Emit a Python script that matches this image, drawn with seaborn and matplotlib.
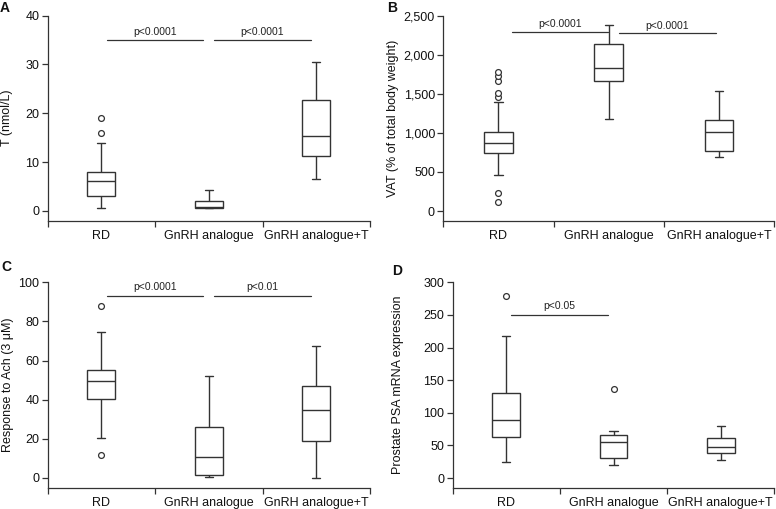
import numpy as np
import pandas as pd
import matplotlib
matplotlib.use("Agg")
import matplotlib.pyplot as plt
import matplotlib.ticker as mticker
import seaborn as sns

# ---------------- data (five-number summaries: low whisker, Q1, median, Q3, high whisker)
groups = ["RD", "GnRH analogue", "GnRH analogue+T"]

A_RD = [0.7, 3.1, 6.1, 8.0, 13.9]
A_GnRH = [0.5, 0.7, 0.9, 2.1, 4.2]
A_GnRHT = [6.6, 11.2, 15.3, 22.8, 30.5]
A_out_RD = [16.0, 19.1]
A_out_GnRH = []
A_out_GnRHT = []

B_RD = [465, 739, 874, 1015, 1399]
B_GnRH = [1178, 1660, 1836, 2142, 2385]
B_GnRHT = [691, 772, 1007, 1165, 1536]
B_out_RD = [119, 226, 1455, 1514, 1668, 1728, 1783]
B_out_GnRH = []
B_out_GnRHT = []

C_RD = [20.3, 40.1, 49.3, 55.1, 74.4]
C_GnRH = [0.5, 1.5, 10.4, 26.1, 52.1]
C_GnRHT = [0.0, 18.8, 34.5, 47.1, 67.2]
C_out_RD = [11.6, 87.7]
C_out_GnRH = []
C_out_GnRHT = []

D_RD = [24.5, 62.9, 88.4, 130.8, 217.7]
D_GnRH = [20.4, 31.2, 55.8, 66.0, 72.2]
D_GnRHT = [27.0, 38.3, 47.0, 60.8, 80.2]
D_out_RD = [279]
D_out_GnRH = [136.7]
D_out_GnRHT = []

# significance annotations: (x start, x end, y, label)
A_sig = [(0.05, 0.95, 35.0, "p<0.0001"), (1.05, 1.95, 35.0, "p<0.0001")]
B_sig = [(0.12, 0.99, 2291, "p<0.0001"), (1.09, 1.97, 2274, "p<0.0001")]
C_sig = [(0.05, 0.95, 93.2, "p<0.0001"), (1.05, 1.95, 93.2, "p<0.01")]
D_sig = [(0.04, 0.95, 250, "p<0.05")]

A_ylabel = "T (nmol/L)"
B_ylabel = "VAT (% of total body weight)"
C_ylabel = "Response to Ach (3 \u03bcM)"
D_ylabel = "Prostate PSA mRNA expression"

A_yticks = [0, 10, 20, 30, 40]
B_yticks = [0, 500, 1000, 1500, 2000, 2500]
C_yticks = [0, 20, 40, 60, 80, 100]
D_yticks = [0, 50, 100, 150, 200, 250, 300]

# ---------------- style
sns.set_style("ticks")
plt.rcParams["font.family"] = ["Liberation Sans", "DejaVu Sans"]
plt.rcParams["font.size"] = 9

LC = "#333333"

fig = plt.figure(figsize=(7.76, 5.09), dpi=100)

panels = [
    dict(letter="A", boxes=[A_RD, A_GnRH, A_GnRHT], outs=[A_out_RD, A_out_GnRH, A_out_GnRHT],
         sig=A_sig, ylabel=A_ylabel, yticks=A_yticks, ylim=(-2.0, 40),
         rect=[0.0615, 0.5664, 0.4153, 0.4028], lab_x=-0.107, letter_xy=(5, 8), sigoff=4.0, comma=False),
    dict(letter="B", boxes=[B_RD, B_GnRH, B_GnRHT], outs=[B_out_RD, B_out_GnRH, B_out_GnRHT],
         sig=B_sig, ylabel=B_ylabel, yticks=B_yticks, ylim=(-124, 2500),
         rect=[0.5713, 0.5664, 0.4265, 0.4028], lab_x=-0.135, letter_xy=(392, 8), sigoff=3.4, comma=True),
    dict(letter="C", boxes=[C_RD, C_GnRH, C_GnRHT], outs=[C_out_RD, C_out_GnRH, C_out_GnRHT],
         sig=C_sig, ylabel=C_ylabel, yticks=C_yticks, ylim=(-5.1, 100),
         rect=[0.0615, 0.0418, 0.4153, 0.4035], lab_x=-0.105, letter_xy=(6, 267), sigoff=4.0, comma=False),
    dict(letter="D", boxes=[D_RD, D_GnRH, D_GnRHT], outs=[D_out_RD, D_out_GnRH, D_out_GnRHT],
         sig=D_sig, ylabel=D_ylabel, yticks=D_yticks, ylim=(-14.8, 300),
         rect=[0.5834, 0.0418, 0.4144, 0.4035], lab_x=-0.150, letter_xy=(397, 271), sigoff=4.0, comma=False),
]

for p in panels:
    ax = fig.add_axes(p["rect"])
    box_df = pd.DataFrame(
        [(g, v) for g, vals in zip(groups, p["boxes"]) for v in vals],
        columns=["group", "value"],
    )
    out_df = pd.DataFrame(
        [(g, v) for g, vals in zip(groups, p["outs"]) for v in vals],
        columns=["group", "value"],
    )
    sns.boxplot(data=box_df, x="group", y="value", order=groups, ax=ax,
                whis=(0, 100), width=0.26, color="white", linecolor=LC,
                linewidth=1.0, capwidths=0.075, showfliers=False)
    if len(out_df):
        sns.stripplot(data=out_df, x="group", y="value", order=groups, ax=ax,
                      jitter=False, color="white", edgecolor=LC, linewidth=0.9,
                      size=4.2, zorder=5)
    for x0, x1, y, lab in p["sig"]:
        ax.plot([x0, x1], [y, y], color=LC, lw=0.9)
        ax.annotate(lab, xy=((x0 + x1) / 2, y), xytext=(0, p["sigoff"]),
                    textcoords="offset points", ha="center", va="baseline",
                    fontsize=7.5, color="#222222")

    ax.set_xlim(-0.5, 2.5)
    ax.set_ylim(*p["ylim"])
    ax.set_yticks(p["yticks"])
    if p["comma"]:
        ax.yaxis.set_major_formatter(mticker.StrMethodFormatter("{x:,.0f}"))
    ax.set_xticks([0, 1, 2])
    ax.set_xticklabels(groups)
    ax.set_xticks([-0.5, 0.5, 1.5, 2.5], minor=True)
    ax.tick_params(axis="x", which="major", length=0, pad=7, labelsize=9, colors="#111111")
    ax.tick_params(axis="x", which="minor", length=4, width=0.9, direction="out", color=LC)
    ax.tick_params(axis="y", which="major", length=4, width=0.9, direction="out", pad=2,
                   labelsize=9, color=LC, labelcolor="#111111")
    for s in ["top", "right"]:
        ax.spines[s].set_visible(False)
    for s in ["left", "bottom"]:
        ax.spines[s].set_color(LC)
        ax.spines[s].set_linewidth(0.9)
    ax.set_xlabel("")
    ax.set_ylabel(p["ylabel"], fontsize=9, color="#111111")
    ax.yaxis.set_label_coords(p["lab_x"], 0.5)

    lx, ly = p["letter_xy"]
    fig.text(lx / 776, 1 - ly / 509, p["letter"], ha="center", va="center",
             fontsize=10, fontweight="bold", color="#111111")

fig.savefig("out.png", dpi=100)
